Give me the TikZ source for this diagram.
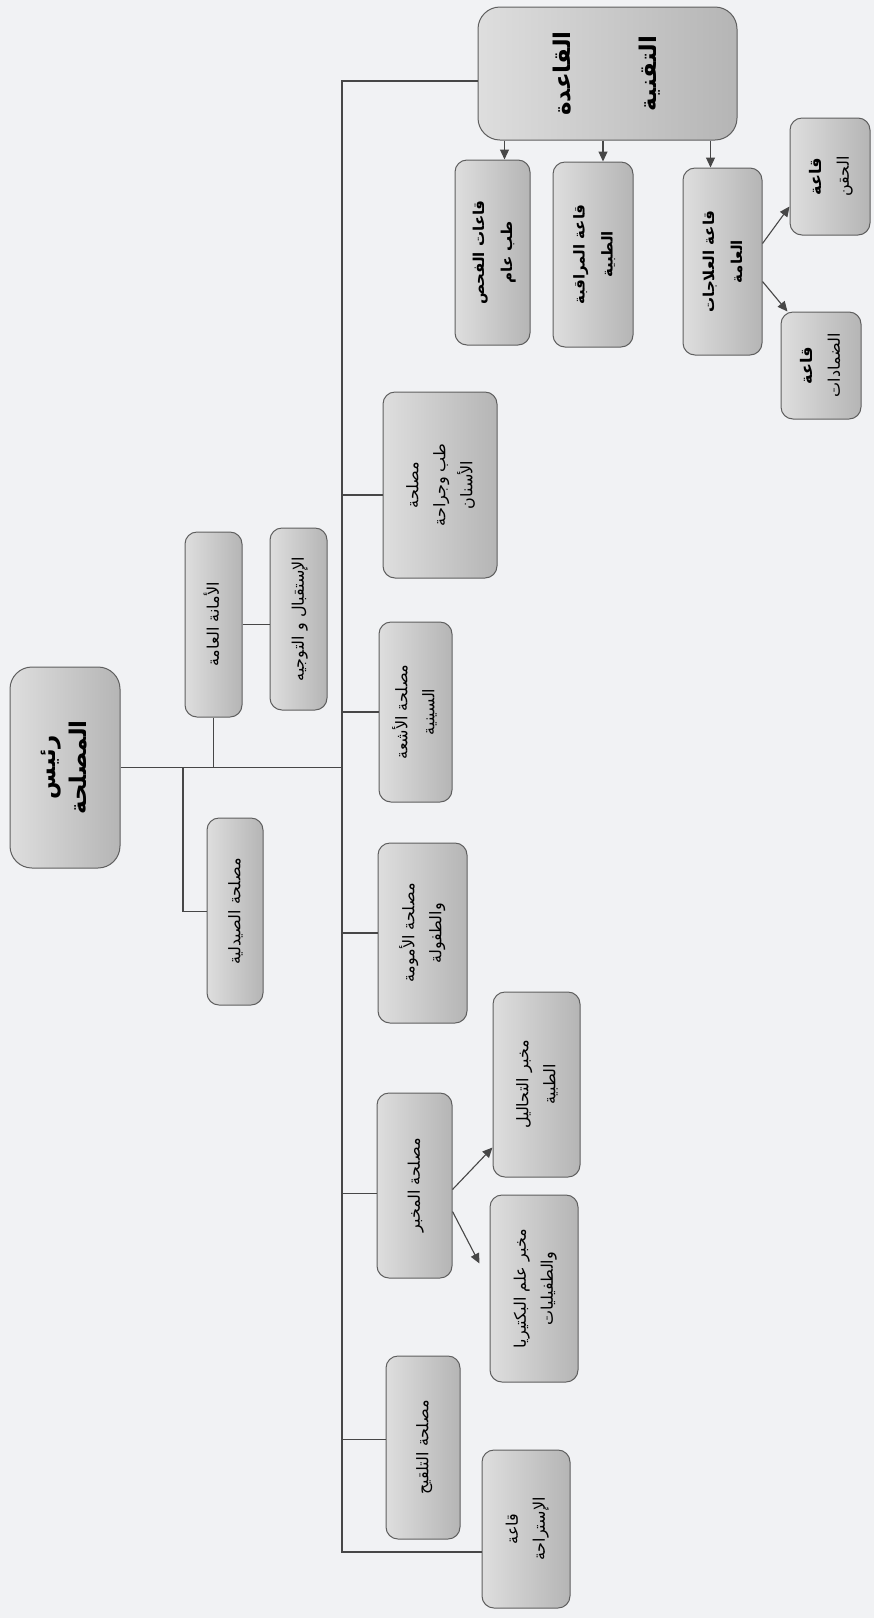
\documentclass[tikz,border=0pt]{standalone}
\usepackage{fontspec}
\usepackage{graphicx}
\newfontfamily\arabicfont[Script=Arabic]{DejaVu Sans}
\TeXXeTstate=1
\usetikzlibrary{positioning,arrows.meta,calc}
\definecolor{paper}{RGB}{241,242,244}
\definecolor{edge}{RGB}{95,95,95}
\newcommand{\arl}[1]{\beginR #1\endR}
\newcommand{\vtxt}[1]{\rotatebox{90}{\begin{tabular}{@{}c@{}}#1\end{tabular}}}

\begin{document}
\begin{tikzpicture}[x=1pt, y=-1pt,
  font=\arabicfont\fontsize{16}{27}\selectfont,
  sz/.style 2 args={minimum width=#1pt, minimum height=#2pt},
  unit/.style={draw=edge, line width=1pt, rounded corners=12pt, inner sep=0pt,
               left color=gray!26, middle color=gray!10, right color=gray!58},
  bigunit/.style={unit, rounded corners=22pt, font=\arabicfont\bfseries\fontsize{23}{31}\selectfont},
  hall/.style={unit, font=\arabicfont\bfseries\fontsize{15}{28}\selectfont},
  link/.style={draw=black!72, line width=1.1pt},
  arr/.style={link, -{Triangle[length=10pt, width=9pt]}}
]
\fill[paper] (0,0) rectangle (874,1618);
% ----- head and staff -----
\node[bigunit, sz={110}{201}] (head) at (65,767.5) {\vtxt{\arl{رئيس}\\ \arl{المصلحة}}};
\node[unit, sz={57}{185}] (amana) at (213.5,624.5) {\vtxt{\arl{الأمانة العامة}}};
\node[unit, sz={57}{182}] (istiqbal) at (298.5,619) {\vtxt{\arl{الإستقبال و التوجيه}}};
\node[unit, sz={56}{187}] (saydala) at (235,911.5) {\vtxt{\arl{مصلحة الصيدلية}}};
% ----- technical block -----
\node[bigunit, sz={259}{133}] (qaida) at (607.5,73.5) {\vtxt{\arl{القاعدة}\\[55pt] \arl{التقنية}}};
\node[hall, sz={75}{185}] (fahs) at (492.5,252.5) {\vtxt{\arl{قاعات الفحص}\\ \arl{طب عام}}};
\node[hall, sz={80}{185}] (muraqaba) at (593,254.5) {\vtxt{\arl{قاعة المراقبة}\\ \arl{الطبية}}};
\node[hall, sz={79}{187}] (ilajat) at (722.5,261.5) {\vtxt{\arl{قاعة العلاجات}\\ \arl{العامة}}};
\node[unit, sz={80}{117}] (haqn) at (830,176.5) {\vtxt{\arl{\bfseries قاعة}\\ \arl{الحقن}}};
\node[unit, sz={80}{107}] (damadat) at (821,365.5) {\vtxt{\arl{\bfseries قاعة}\\ \arl{الضمادات}}};
% ----- services -----
\node[unit, sz={114}{186}] (asnan) at (440,485) {\vtxt{\arl{مصلحة}\\ \arl{طب وجراحة}\\ \arl{الأسنان}}};
\node[unit, sz={73}{180}] (ashia) at (415.5,712) {\vtxt{\arl{مصلحة الأشعة}\\ \arl{السينية}}};
\node[unit, sz={89}{180}] (umuma) at (422.5,933) {\vtxt{\arl{مصلحة الأمومة}\\ \arl{والطفولة}}};
\node[unit, sz={75}{185}] (makhbar) at (414.5,1185.5) {\vtxt{\arl{مصلحة المخبر}}};
\node[unit, sz={87}{185}] (tahalil) at (536.5,1084.5) {\vtxt{\arl{مخبر التحاليل}\\ \arl{الطبية}}};
\node[unit, sz={88}{187}] (bacteria) at (534,1288.5) {\vtxt{\arl{مخبر علم البكتيريا}\\ \arl{والطفيليات}}};
\node[unit, sz={74}{183}] (talqih) at (423,1447.5) {\vtxt{\arl{مصلحة التلقيح}}};
\node[unit, sz={88}{158}] (istiraha) at (526,1529) {\vtxt{\arl{قاعة}\\ \arl{الإستراحة}}};
% ----- trunk -----
\coordinate (ttop) at (342,81);
\coordinate (tbot) at (342,1552);
\coordinate (sj) at (183,767.5);
\draw[link] (qaida.west |- ttop) -- (ttop) -- (tbot) -- (tbot -| istiraha.west);
\draw[link] (head.east) -- (head.east -| ttop);
\foreach \n/\d in {asnan/-10, ashia/0, umuma/0, makhbar/-8, talqih/8}{
  \path ([yshift=\d pt]\n.west) coordinate (p);
  \draw[link] (p) -- (p -| ttop);}
\draw[link] (amana.south) -- (amana.south |- head.east);
\draw[link] (amana.east) -- (amana.east -| istiqbal.west);
\draw[link] (sj) |- (saydala.west);
% ----- arrows -----
\foreach \n/\d in {fahs/12, muraqaba/10, ilajat/-12}{
  \path ([xshift=\d pt]\n.north) coordinate (p);
  \draw[arr] (p |- qaida.south) -- (p);}
\draw[arr] ([yshift=18pt]ilajat.east) -- ([yshift=-30pt]haqn.west);
\draw[arr] ([yshift=-20pt]ilajat.east) -- ([xshift=7pt]damadat.north west);
\draw[arr] ([yshift=-4pt]makhbar.east) -- ([yshift=-63pt]tahalil.west);
\draw[arr] ([yshift=-26pt]makhbar.east) -- ([xshift=-10pt,yshift=25pt]bacteria.west);
\end{tikzpicture}
\end{document}
